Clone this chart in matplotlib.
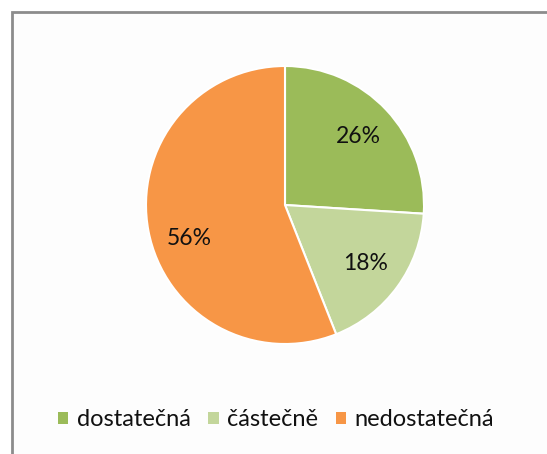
import matplotlib
matplotlib.use("Agg")
import matplotlib.pyplot as plt
from matplotlib.patches import Rectangle
import numpy as np

categories = ["dostatečná", "částečně", "nedostatečná"]
values = [26, 18, 56]
colors = ["#9BBB59", "#C3D69B", "#F79646"]

plt.rcParams['font.family'] = ['Lato', 'DejaVu Sans']

W, H = 547, 454
fig = plt.figure(figsize=(W / 100, H / 100), dpi=100)
fig.patch.set_facecolor("white")

# chart frame (cut off at right and bottom)
frame = Rectangle((11.5 / W, -0.05), 1.2, 1 - 12 / H + 0.05, transform=fig.transFigure,
                  facecolor="#fdfdfd", edgecolor="#8c8c8c", linewidth=2.0, zorder=-5)
fig.patches.append(frame)

cx, cy, r = 285, 205, 139
ax = fig.add_axes([(cx - r) / W, (H - cy - r) / H, 2 * r / W, 2 * r / H])
ax.set_zorder(2)
ax.set_facecolor("none")
wedges, texts, autotexts = ax.pie(values, colors=colors, startangle=90, counterclock=False,
                                  autopct=lambda p: f"{p:.0f}%", pctdistance=0.72, radius=1,
                                  wedgeprops=dict(edgecolor="white", linewidth=1.5),
                                  textprops=dict(fontsize=16.5, color="#111111"))
# Excel-like placement of the large slice label
ang = np.deg2rad(199)
autotexts[2].set_position((0.73 * np.cos(ang), 0.73 * np.sin(ang)))
ax.set_xlim(-1, 1)
ax.set_ylim(-1, 1)
ax.set_aspect("equal")
ax.axis("off")

leg = fig.legend(wedges, categories, loc="center", bbox_to_anchor=(276 / W, 1 - 420 / H),
                 ncol=3, frameon=False, fontsize=17, handlelength=0.45, handleheight=0.45,
                 handletextpad=0.35, columnspacing=0.75, labelcolor="#111111")
leg.set_zorder(3)
for h in leg.legend_handles:
    h.set_edgecolor("none")

fig.savefig("out.png", dpi=100)
